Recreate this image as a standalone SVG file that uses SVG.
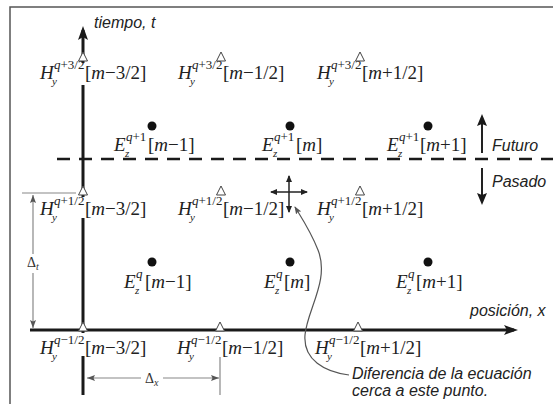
<svg xmlns="http://www.w3.org/2000/svg" width="553" height="404" viewBox="0 0 553 404">
<style>
.m{font-family:"Liberation Serif","Times New Roman",serif;font-size:19px;fill:#222}
.i{font-style:italic}
.sup{font-size:13px}
.sub{font-size:11px}
.s{font-family:"Liberation Sans",Arial,sans-serif;font-size:16px;font-style:italic;fill:#222}
.d{font-family:"Liberation Serif",serif;font-size:14px;fill:#333}
.tri{fill:#fff;stroke:#444;stroke-width:1}
.dot{fill:#111}
.axis{fill:none;stroke:#1a1a1a;stroke-width:3}
.dim{fill:none;stroke:#888;stroke-width:1.2}
.thin{fill:none;stroke:#222;stroke-width:2}
</style>
<defs>
<marker id="ax" viewBox="0 0 14 10" refX="10" refY="5" markerWidth="14" markerHeight="10" orient="auto" markerUnits="userSpaceOnUse"><path d="M0,0 L14,5 L0,10 L3,5 z" fill="#1a1a1a"/></marker>
<marker id="fa" viewBox="0 0 12 10" refX="9" refY="5" markerWidth="12" markerHeight="10" orient="auto" markerUnits="userSpaceOnUse"><path d="M0,0 L12,5 L0,10 L2,5 z" fill="#1a1a1a"/></marker>
<marker id="sm" viewBox="0 0 7 6" refX="6" refY="3" markerWidth="7" markerHeight="6" orient="auto-start-reverse" markerUnits="userSpaceOnUse"><path d="M0,0 L7,3 L0,6 z" fill="#222"/></marker>
<marker id="dm" viewBox="0 0 8 6" refX="8" refY="3" markerWidth="8" markerHeight="6" orient="auto-start-reverse" markerUnits="userSpaceOnUse"><path d="M0,0 L8,3 L0,6 L1.5,3 z" fill="#555"/></marker>
<marker id="lm" viewBox="0 0 8 6" refX="7" refY="3" markerWidth="8" markerHeight="6" orient="auto" markerUnits="userSpaceOnUse"><path d="M0,0 L8,3 L0,6 L1.5,3 z" fill="#555"/></marker>
</defs>
<rect width="553" height="404" fill="#fff"/>
<path d="M10,404 V7 H553" fill="none" stroke="#555" stroke-width="1.5"/>

<g id="connectors">
<path class="axis" d="M83,395 V356 M83,333 V218 M83,197 V85 M83,63 V30" marker-end="url(#ax)"/>
<path class="axis" d="M30,330 H514" marker-end="url(#ax)"/>
<path d="M57,159 H553" stroke="#1a1a1a" stroke-width="2.5" stroke-dasharray="13 9" fill="none"/>
<path class="thin" d="M482,153 V117" marker-end="url(#fa)"/>
<path class="thin" d="M482,168 V202" marker-end="url(#fa)"/>
<path d="M271,192 H307" stroke="#222" stroke-width="1.5" fill="none" marker-start="url(#sm)" marker-end="url(#sm)"/>
<path d="M289,176 V212" stroke="#222" stroke-width="1.5" fill="none" marker-start="url(#sm)" marker-end="url(#sm)"/>
<path d="M349,375 C325,372 303,360 305,335 C307,310 330,280 318,250 C311,232 303,220 295,207" fill="none" stroke="#555" stroke-width="1.2" marker-end="url(#lm)"/>
<path class="dim" d="M22,193 H76"/>
<path class="dim" d="M33,254 V195" marker-end="url(#dm)"/>
<path class="dim" d="M33,273 V328" marker-end="url(#dm)"/>
<path class="dim" d="M220,357 V395"/>
<path class="dim" d="M141,378 H87" marker-end="url(#dm)"/>
<path class="dim" d="M163,378 H219" marker-end="url(#dm)"/>
</g>

<g id="axis-labels">
<text class="s" x="94" y="28">tiempo, t</text>
<text class="s" x="470" y="316">posición, x</text>
<text class="s" x="492" y="151">Futuro</text>
<text class="s" x="492" y="187">Pasado</text>
<text class="s" x="352" y="379">Diferencia de la ecuación</text>
<text class="s" x="352" y="396">cerca a este punto.</text>
<text class="d" x="27" y="267">Δ<tspan class="i" font-size="10" x="36" y="270">t</tspan></text>
<text class="d" x="145" y="383">Δ<tspan class="i" font-size="10" x="154" y="386">x</tspan></text>
</g>

<g id="h-q32-m32">
<polygon class="tri" points="83,52 78.5,61 87.5,61"/>
<text class="m"><tspan class="i" x="40" y="79">H</tspan><tspan class="i sub" x="52" y="85">y</tspan><tspan class="sup" x="54" y="69"><tspan class="i">q</tspan>+3/2</tspan><tspan x="85" y="79">[<tspan class="i">m</tspan>−3/2]</tspan></text>
</g>
<g id="h-q32-m12">
<polygon class="tri" points="221,52 216.5,61 225.5,61"/>
<text class="m"><tspan class="i" x="178" y="79">H</tspan><tspan class="i sub" x="190" y="85">y</tspan><tspan class="sup" x="192" y="69"><tspan class="i">q</tspan>+3/2</tspan><tspan x="223" y="79">[<tspan class="i">m</tspan>−1/2]</tspan></text>
</g>
<g id="h-q32-p12">
<polygon class="tri" points="360,52 355.5,61 364.5,61"/>
<text class="m"><tspan class="i" x="317" y="79">H</tspan><tspan class="i sub" x="329" y="85">y</tspan><tspan class="sup" x="331" y="69"><tspan class="i">q</tspan>+3/2</tspan><tspan x="362" y="79">[<tspan class="i">m</tspan>+1/2]</tspan></text>
</g>

<g id="h-q12-m32">
<polygon class="tri" points="83,186 78.5,195 87.5,195"/>
<text class="m"><tspan class="i" x="40" y="215">H</tspan><tspan class="i sub" x="52" y="221">y</tspan><tspan class="sup" x="54" y="205"><tspan class="i">q</tspan>+1/2</tspan><tspan x="85" y="215">[<tspan class="i">m</tspan>−3/2]</tspan></text>
</g>
<g id="h-q12-m12">
<polygon class="tri" points="221,186 216.5,195 225.5,195"/>
<text class="m"><tspan class="i" x="178" y="215">H</tspan><tspan class="i sub" x="190" y="221">y</tspan><tspan class="sup" x="192" y="205"><tspan class="i">q</tspan>+1/2</tspan><tspan x="223" y="215">[<tspan class="i">m</tspan>−1/2]</tspan></text>
</g>
<g id="h-q12-p12">
<polygon class="tri" points="360,186 355.5,195 364.5,195"/>
<text class="m"><tspan class="i" x="317" y="215">H</tspan><tspan class="i sub" x="329" y="221">y</tspan><tspan class="sup" x="331" y="205"><tspan class="i">q</tspan>+1/2</tspan><tspan x="362" y="215">[<tspan class="i">m</tspan>+1/2]</tspan></text>
</g>

<g id="h-qm12-m32">
<polygon class="tri" points="83,322 78.5,331 87.5,331"/>
<text class="m"><tspan class="i" x="40" y="354">H</tspan><tspan class="i sub" x="52" y="360">y</tspan><tspan class="sup" x="54" y="344"><tspan class="i">q</tspan>−1/2</tspan><tspan x="85" y="354">[<tspan class="i">m</tspan>−3/2]</tspan></text>
</g>
<g id="h-qm12-m12">
<polygon class="tri" points="220,322 215.5,331 224.5,331"/>
<text class="m"><tspan class="i" x="177" y="354">H</tspan><tspan class="i sub" x="189" y="360">y</tspan><tspan class="sup" x="191" y="344"><tspan class="i">q</tspan>−1/2</tspan><tspan x="222" y="354">[<tspan class="i">m</tspan>−1/2]</tspan></text>
</g>
<g id="h-qm12-p12">
<polygon class="tri" points="358,322 353.5,331 362.5,331"/>
<text class="m"><tspan class="i" x="315" y="354">H</tspan><tspan class="i sub" x="327" y="360">y</tspan><tspan class="sup" x="329" y="344"><tspan class="i">q</tspan>−1/2</tspan><tspan x="360" y="354">[<tspan class="i">m</tspan>+1/2]</tspan></text>
</g>

<g id="e-q1-m1">
<circle class="dot" cx="152" cy="126" r="4.5"/>
<text class="m"><tspan class="i" x="114" y="151">E</tspan><tspan class="i sub" x="125" y="157">z</tspan><tspan class="sup" x="126" y="141"><tspan class="i">q</tspan>+1</tspan><tspan x="148" y="151">[<tspan class="i">m</tspan>−1]</tspan></text>
</g>
<g id="e-q1-m">
<circle class="dot" cx="290" cy="126" r="4.5"/>
<text class="m"><tspan class="i" x="262" y="151">E</tspan><tspan class="i sub" x="273" y="157">z</tspan><tspan class="sup" x="274" y="141"><tspan class="i">q</tspan>+1</tspan><tspan x="296" y="151">[<tspan class="i">m</tspan>]</tspan></text>
</g>
<g id="e-q1-p1">
<circle class="dot" cx="428" cy="126" r="4.5"/>
<text class="m"><tspan class="i" x="387" y="151">E</tspan><tspan class="i sub" x="398" y="157">z</tspan><tspan class="sup" x="399" y="141"><tspan class="i">q</tspan>+1</tspan><tspan x="420" y="151">[<tspan class="i">m</tspan>+1]</tspan></text>
</g>
<g id="e-q-m1">
<circle class="dot" cx="152" cy="262" r="4.5"/>
<text class="m"><tspan class="i" x="124" y="288">E</tspan><tspan class="i sub" x="135" y="294">z</tspan><tspan class="sup i" x="136" y="278">q</tspan><tspan x="145" y="288">[<tspan class="i">m</tspan>−1]</tspan></text>
</g>
<g id="e-q-m">
<circle class="dot" cx="290" cy="262" r="4.5"/>
<text class="m"><tspan class="i" x="264" y="288">E</tspan><tspan class="i sub" x="275" y="294">z</tspan><tspan class="sup i" x="276" y="278">q</tspan><tspan x="284" y="288">[<tspan class="i">m</tspan>]</tspan></text>
</g>
<g id="e-q-p1">
<circle class="dot" cx="428" cy="262" r="4.5"/>
<text class="m"><tspan class="i" x="396" y="288">E</tspan><tspan class="i sub" x="407" y="294">z</tspan><tspan class="sup i" x="408" y="278">q</tspan><tspan x="416" y="288">[<tspan class="i">m</tspan>+1]</tspan></text>
</g>
</svg>
